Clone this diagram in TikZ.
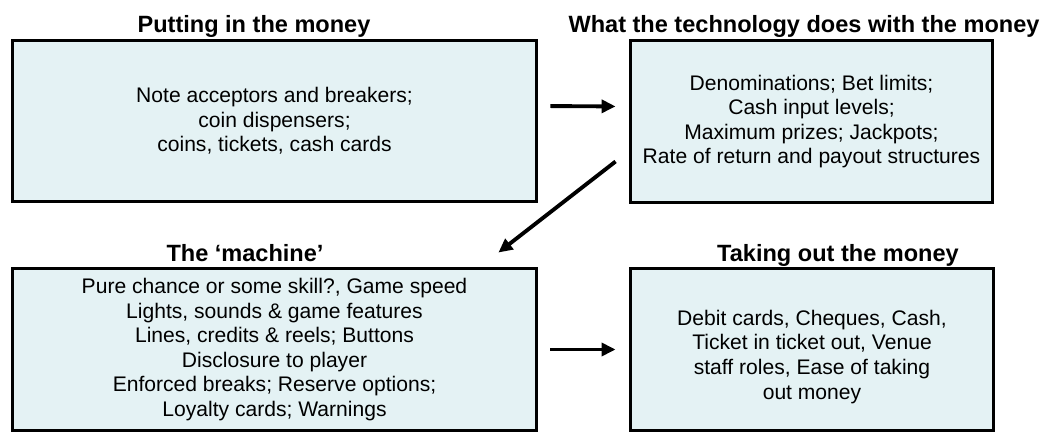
\documentclass[tikz,border=0pt]{standalone}
\usepackage{fontspec}
\setmainfont{Liberation Sans}
\usepackage{xcolor}
\usepackage{tikz}
\usetikzlibrary{arrows.meta}

\definecolor{boxfill}{RGB}{228,242,244}

\begin{document}
\begin{tikzpicture}[x=0.02cm, y=-0.02cm, >={Triangle[length=0.28cm,width=0.26cm]},
    box/.style={draw, line width=1.7pt, fill=boxfill, align=center, inner sep=0pt,
                font=\fontsize{12}{14}\selectfont},
    head/.style={anchor=base, font=\fontsize{13.4}{15}\selectfont\bfseries},
    flow/.style={->, line width=2.2pt, shorten <=0.24cm, shorten >=0.26cm}]
            \useasboundingbox (0,0) rectangle (1045,442);

            \node[box, minimum width=10.5cm, minimum height=3.24cm] (putin) at (274.5,121)
                {Note acceptors and breakers;\\coin dispensers;\\coins, tickets, cash cards};
            \node[box, minimum width=7.26cm, minimum height=3.26cm] (tech) at (811.5,121.5)
                {Denominations; Bet limits;\\Cash input levels;\\Maximum prizes; Jackpots;\\Rate of return and payout structures};
            \node[box, minimum width=10.5cm, minimum height=3.26cm] (machine) at (274.5,349.5)
                {Pure chance or some skill?, Game speed\\Lights, sounds \& game features\\Lines, credits \& reels; Buttons\\Disclosure to player\\Enforced breaks; Reserve options;\\Loyalty cards; Warnings};
            \node[box, minimum width=7.28cm, minimum height=3.26cm] (takeout) at (812,349.5)
                {\rule{0pt}{17pt}Debit cards, Cheques, Cash,\\Ticket in ticket out, Venue\\staff roles, Ease of taking\\out money};

            \node[head] (putin-title) at (254,33) {Putting in the money};
            \node[head] (tech-title) at (804,33) {What the technology does with the money};
            \node[head] (machine-title) at (245,262) {The `machine'};
            \node[head] (takeout-title) at (838,262) {Taking out the money};

            \draw[flow] ([shift={(0,-15)}]putin.east) -- ([shift={(0,-15)}]tech.west);
            \draw[flow, shorten <=0pt, shorten >=0pt] ([shift={(-13,40)}]tech.west) -- ([shift={(-40,-14)}]machine.north east);
            \draw[flow] (machine.east) -- (takeout.west);
\end{tikzpicture}
\end{document}
